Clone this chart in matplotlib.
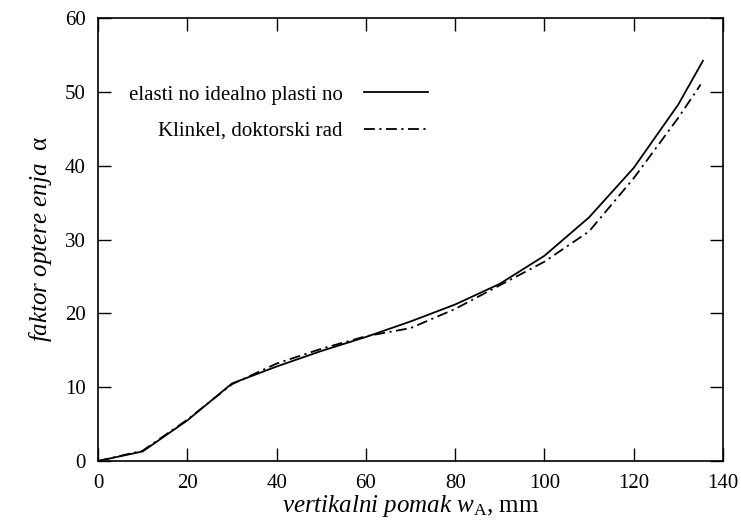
import matplotlib
matplotlib.use("Agg")
import matplotlib.pyplot as plt

plt.rcParams["font.family"] = ["Liberation Serif", "DejaVu Serif"]
plt.rcParams["mathtext.fontset"] = "custom"
plt.rcParams["mathtext.rm"] = "Liberation Serif"
plt.rcParams["mathtext.it"] = "Liberation Serif:italic"

# data
w_ep = [0, 10, 20, 30, 40, 50, 60, 70, 80, 90, 100, 110, 120, 130, 135.5]
a_ep = [0, 1.3, 5.5, 10.5, 12.8, 14.9, 16.8, 18.9, 21.2, 24.0, 27.8, 33.0, 39.7, 48.3, 54.2]

w_kl = [0, 10, 20, 30, 40, 50, 60, 70, 80, 90, 100, 110, 120, 130, 135]
a_kl = [0, 1.4, 5.6, 10.4, 13.2, 15.2, 16.9, 18.0, 20.6, 23.8, 27.0, 31.1, 38.3, 46.5, 51.0]

labels = ["elasti no idealno plasti no", "Klinkel, doktorski rad"]

fig = plt.figure(figsize=(7.41, 5.27), dpi=100)
ax = fig.add_axes([0.1323, 0.1252, 0.8434, 0.8406])

ax.plot(w_ep, a_ep, color="black", lw=1.3, label=labels[0])
ax.plot(w_kl, a_kl, color="black", lw=1.3, dashes=(6, 2.5, 1.2, 2.5), label=labels[1])

ax.set_xlim(0, 140)
ax.set_ylim(0, 60)
ax.set_xticks(range(0, 141, 20))
ax.set_yticks(range(0, 61, 10))
ax.tick_params(direction="in", length=9.5, width=1, top=True, right=True,
               labelsize=15, pad=9)
for s in ax.spines.values():
    s.set_linewidth(1.2)

ax.set_xlabel(r"$\mathit{vertikalni\ pomak\ w}_{\mathrm{A}}$, mm", fontsize=18, labelpad=0)
ax.set_ylabel(r"$\mathit{faktor\ optere\ enja}$  α", fontsize=18, labelpad=8)

ax.legend(loc="upper right", bbox_to_anchor=(0.545, 0.872), frameon=False,
          markerfirst=False, handlelength=3.1, labelspacing=0.8,
          fontsize=15, borderpad=0, handletextpad=1.0)

fig.savefig("out.png", dpi=100)
